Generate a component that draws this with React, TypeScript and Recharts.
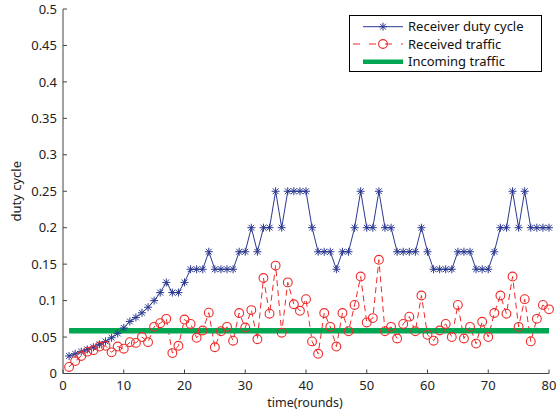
import React from "react";
import { ComposedChart, Line, XAxis, YAxis, Legend, Label } from "recharts";

// rounds 1..80
const rounds = Array.from({ length: 80 }, (_, i) => i + 1);

const receiverDutyCycle = [
    0.024, 0.027, 0.03, 0.033, 0.036, 0.04, 0.044, 0.049, 0.055, 0.0625,
    0.0714, 0.0769, 0.0833, 0.0909, 0.1, 0.111, 0.125, 0.111, 0.111, 0.125,
    0.143, 0.143, 0.143, 0.167, 0.143, 0.143, 0.143, 0.143, 0.167, 0.167,
    0.2, 0.167, 0.2, 0.2, 0.25, 0.2, 0.25, 0.25, 0.25, 0.25,
    0.2, 0.167, 0.167, 0.167, 0.143, 0.167, 0.167, 0.2, 0.25, 0.2,
    0.2, 0.25, 0.2, 0.2, 0.167, 0.167, 0.167, 0.167, 0.2, 0.167,
    0.143, 0.143, 0.143, 0.143, 0.167, 0.167, 0.167, 0.143, 0.143, 0.143,
    0.167, 0.2, 0.2, 0.25, 0.2, 0.25, 0.2, 0.2, 0.2, 0.2,
];

const receivedTraffic = [
    0.009, 0.017, 0.024, 0.03, 0.032, 0.037, 0.038, 0.029, 0.037, 0.034,
    0.043, 0.042, 0.05, 0.043, 0.064, 0.069, 0.075, 0.028, 0.038, 0.074,
    0.068, 0.049, 0.059, 0.0835, 0.036, 0.058, 0.064, 0.045, 0.083, 0.063,
    0.087, 0.047, 0.131, 0.082, 0.148, 0.056, 0.125, 0.095, 0.086, 0.102,
    0.044, 0.027, 0.083, 0.064, 0.037, 0.083, 0.058, 0.094, 0.133, 0.07,
    0.076, 0.156, 0.058, 0.064, 0.048, 0.068, 0.078, 0.058, 0.107, 0.053,
    0.045, 0.059, 0.068, 0.05, 0.094, 0.048, 0.064, 0.041, 0.071, 0.05,
    0.083, 0.107, 0.082, 0.133, 0.064, 0.102, 0.044, 0.075, 0.094, 0.088,
];

// flat incoming rate
const incomingTraffic = 0.0585;

const xTicks = [0, 10, 20, 30, 40, 50, 60, 70, 80];
const yTicks = [0, 0.05, 0.1, 0.15, 0.2, 0.25, 0.3, 0.35, 0.4, 0.45, 0.5];

const data = rounds.map((round, i) => ({
    round,
    duty: receiverDutyCycle[i],
    received: receivedTraffic[i],
    incoming: incomingTraffic,
}));

const BLUE = "#2b3990";
const RED = "#ee2a2a";
const GREEN = "#00a651";
const FONT = "'Noto Sans', sans-serif";

const renderStar = (props: any) => {
    const { cx, cy, index } = props;
    if (cx == null || cy == null) return <g key={`s-${index}`} />;
    const s = 4;
    const d = 2.9;
    return (
        <g key={`s-${index}`} stroke={BLUE} strokeWidth={1}>
            <line x1={cx - s} y1={cy} x2={cx + s} y2={cy} />
            <line x1={cx} y1={cy - s} x2={cx} y2={cy + s} />
            <line x1={cx - d} y1={cy - d} x2={cx + d} y2={cy + d} />
            <line x1={cx - d} y1={cy + d} x2={cx + d} y2={cy - d} />
        </g>
    );
};

const renderCircle = (props: any) => {
    const { cx, cy, index } = props;
    if (cx == null || cy == null) return <g key={`c-${index}`} />;
    return <circle key={`c-${index}`} cx={cx} cy={cy} r={4.4} fill="none" stroke={RED} strokeWidth={1.1} />;
};

const renderLegend = () => (
    <svg width={193} height={57} style={{ display: "block" }}>
        <rect x={0.5} y={0.5} width={192} height={56} fill="#fff" stroke="#000" strokeWidth={1} />
        {/* duty cycle */}
        <line x1={14} y1={11.7} x2={54} y2={11.7} stroke={BLUE} strokeWidth={1} />
        {renderStar({ cx: 34, cy: 11.7, index: "lg" })}
        <text x={59} y={16.3} fontFamily={FONT} fontSize={13} fill="#111">Receiver duty cycle</text>
        {/* received */}
        <line x1={4} y1={29} x2={54} y2={29} stroke={RED} strokeWidth={1} strokeDasharray="7 9" />
        {renderCircle({ cx: 34, cy: 29, index: "lg" })}
        <text x={59} y={33.6} fontFamily={FONT} fontSize={13} fill="#111">Received traffic</text>
        {/* incoming */}
        <line x1={14} y1={46.7} x2={54} y2={46.7} stroke={GREEN} strokeWidth={4.5} />
        <text x={59} y={51.3} fontFamily={FONT} fontSize={13} fill="#111">Incoming traffic</text>
    </svg>
);

export default function App() {
    return (
        <div style={{ position: "absolute", left: 0, top: 0, width: 556, height: 412, background: "#fff" }}>
            <ComposedChart
                width={556}
                height={412}
                data={data}
                margin={{ top: 9, right: 7, bottom: 0, left: 8 }}
            >
                <XAxis
                    dataKey="round"
                    type="number"
                    domain={[0, 80]}
                    ticks={xTicks}
                    height={38.5}
                    tickSize={-4}
                    tickMargin={11}
                    stroke="#444"
                    tick={{ fill: "#222", fontSize: 13, fontFamily: FONT }}
                >
                    <Label
                        content={({ viewBox }: any) => (
                            <text x={viewBox.x + viewBox.width / 2 - 1} y={407} textAnchor="middle" fontFamily={FONT} fontSize={12.5} fill="#222">
                                time(rounds)
                            </text>
                        )}
                    />
                </XAxis>
                <YAxis
                    type="number"
                    domain={[0, 0.5]}
                    ticks={yTicks}
                    width={55}
                    tickSize={-4}
                    tickMargin={10}
                    stroke="#444"
                    tick={{ fill: "#222", fontSize: 13, fontFamily: FONT }}
                >
                    <Label
                        content={({ viewBox }: any) => (
                            <text
                                x={21}
                                y={viewBox.y + viewBox.height / 2}
                                transform={`rotate(-90, 21, ${viewBox.y + viewBox.height / 2})`}
                                textAnchor="middle"
                                fontFamily={FONT}
                                fontSize={13}
                                fill="#222"
                            >
                                duty cycle
                            </text>
                        )}
                    />
                </YAxis>
                <Legend
                    layout="vertical"
                    align="center"
                    verticalAlign="middle"
                    content={renderLegend}
                    wrapperStyle={{ left: 349, top: 15, width: 193, height: 57 }}
                />
                <Line
                    type="linear"
                    dataKey="duty"
                    name="Receiver duty cycle"
                    stroke={BLUE}
                    strokeWidth={1}
                    dot={renderStar}
                    activeDot={false}
                    isAnimationActive={false}
                />
                <Line
                    type="linear"
                    dataKey="received"
                    name="Received traffic"
                    stroke={RED}
                    strokeWidth={1}
                    strokeDasharray="6 4"
                    dot={renderCircle}
                    activeDot={false}
                    isAnimationActive={false}
                />
                <Line
                    type="linear"
                    dataKey="incoming"
                    name="Incoming traffic"
                    stroke={GREEN}
                    strokeWidth={5.5}
                    dot={false}
                    activeDot={false}
                    isAnimationActive={false}
                />
            </ComposedChart>
        </div>
    );
}
